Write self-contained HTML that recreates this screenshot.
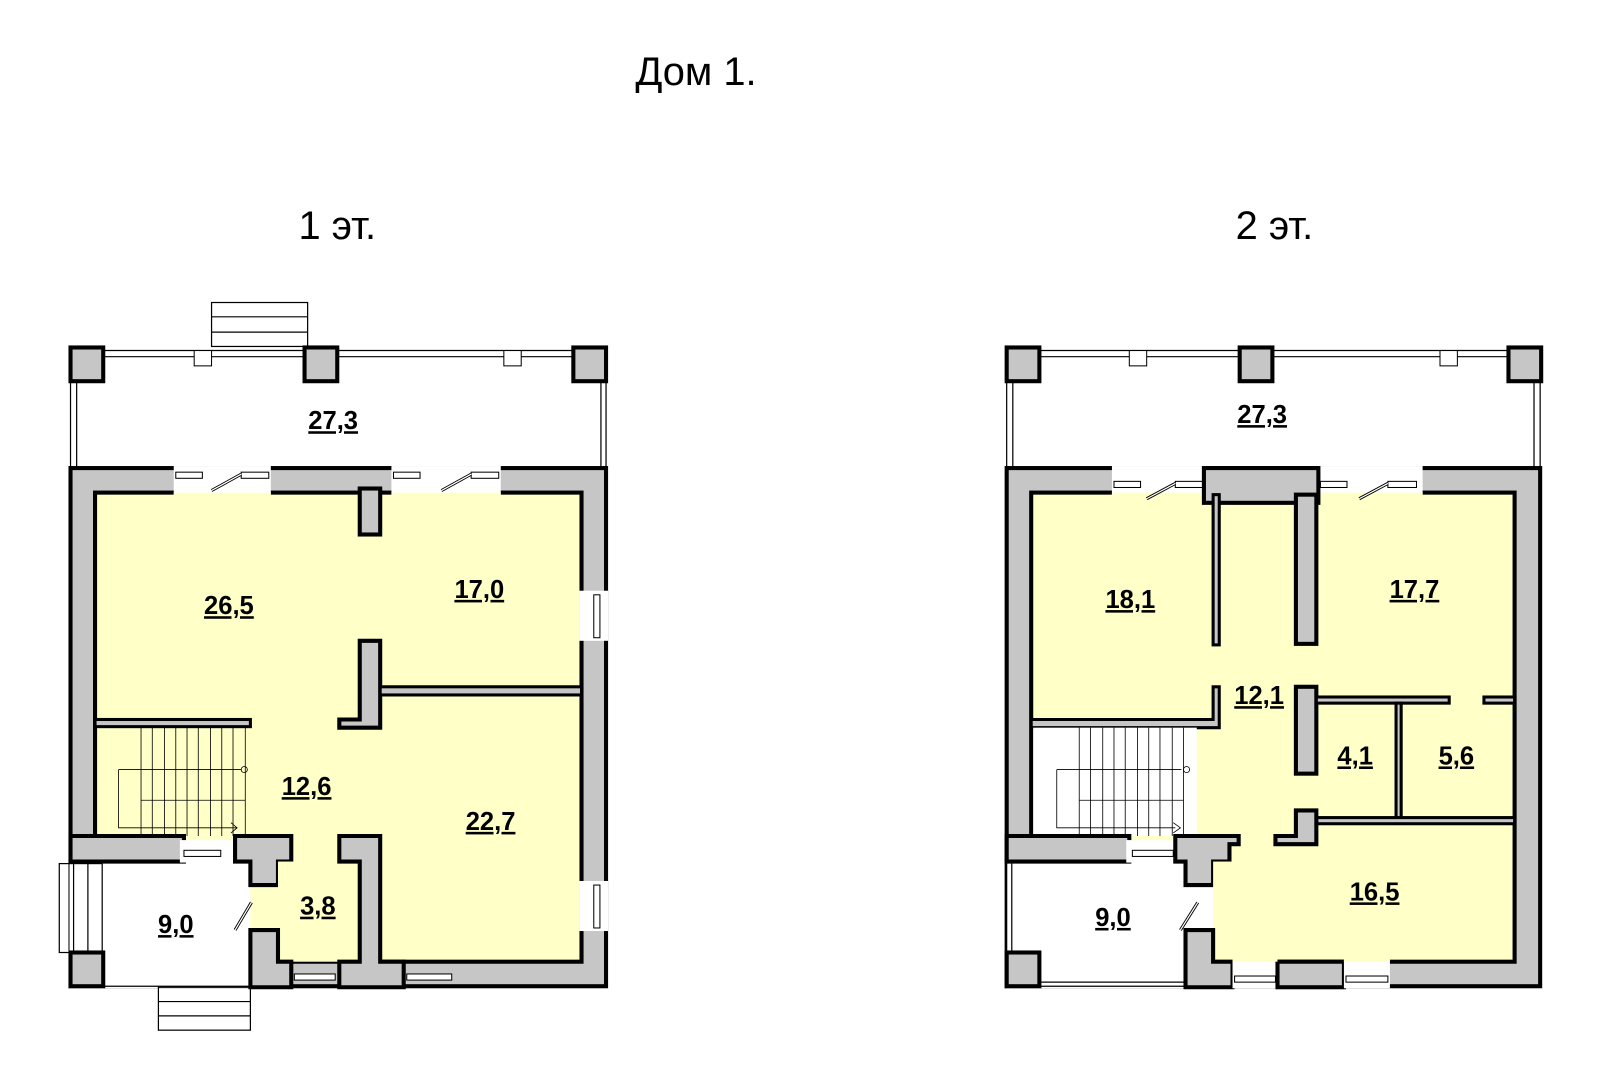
<!DOCTYPE html>
<html><head><meta charset="utf-8"><style>
html,body{margin:0;padding:0;background:#fff}
svg{display:block}
.w{fill:#c6c6c6;stroke:#000;stroke-width:4}
.y{fill:#ffffc8}
.t{font-family:"Liberation Sans",sans-serif;font-size:25px;font-weight:bold;text-anchor:middle;text-decoration:underline}
.h{font-family:"Liberation Sans",sans-serif;font-size:39px;text-anchor:middle}
.l{fill:none;stroke:#000;stroke-width:1.2}
.win{fill:#fff;stroke:#000;stroke-width:1}
</style></head><body>
<svg width="1600" height="1087" viewBox="0 0 1600 1087" xmlns="http://www.w3.org/2000/svg">
<g transform="scale(1.022)">
<text class="h" x="681" y="83">Дом 1.</text>
<text class="h" x="330" y="234">1 эт.</text>
<text class="h" x="1247" y="234">2 эт.</text>

<!-- LEFT PLAN -->
<g>
<rect class="l" x="207" y="296" width="94" height="43"/>
<line class="l" x1="207" y1="310" x2="301" y2="310"/><line class="l" x1="207" y1="325" x2="301" y2="325"/>
<line class="l" x1="100" y1="343" x2="561" y2="343"/><line class="l" x1="100" y1="349" x2="561" y2="349"/>
<rect class="win" x="190" y="343" width="17" height="15"/><rect class="win" x="493" y="343" width="17" height="15"/>
<line class="l" x1="69" y1="373" x2="69" y2="457"/><line class="l" x1="75" y1="373" x2="75" y2="457"/>
<line class="l" x1="588" y1="373" x2="588" y2="457"/><line class="l" x1="593" y1="373" x2="593" y2="457"/>
<rect class="w" x="69" y="340" width="32" height="33"/><rect class="w" x="298" y="340" width="32" height="33"/><rect class="w" x="561" y="340" width="32" height="33"/>
<rect class="w" x="69" y="458" width="524" height="507"/>
<rect class="y" x="93" y="482" width="476" height="459" stroke="#000" stroke-width="4"/>
<rect x="170" y="456" width="95" height="28" fill="#fff"/>
<rect x="383" y="456" width="107" height="28" fill="#fff"/>
<rect x="170" y="482" width="95" height="10" fill="#ffffc8"/><rect x="383" y="482" width="107" height="10" fill="#ffffc8"/>
<rect class="win" x="172" y="462" width="26" height="6"/><rect class="win" x="236" y="462" width="27" height="6"/>
<line x1="207" y1="480" x2="236" y2="464" stroke="#000" stroke-width="3"/><line x1="207" y1="480" x2="236" y2="464" stroke="#fff" stroke-width="1.2"/>
<rect class="win" x="385" y="462" width="26" height="6"/><rect class="win" x="461" y="462" width="27" height="6"/>
<line x1="432" y1="480" x2="461" y2="464" stroke="#000" stroke-width="3"/><line x1="432" y1="480" x2="461" y2="464" stroke="#fff" stroke-width="1.2"/>
<rect class="w" x="352" y="478" width="20" height="45"/>
<rect x="567" y="578" width="28" height="49" fill="#fff"/><rect class="win" x="581" y="582" width="6" height="42"/>
<rect x="567" y="862" width="28" height="49" fill="#fff"/><rect class="win" x="581" y="866" width="6" height="42"/>
<path class="w" d="M352 627 H372 V712 H332 V704 H352 Z"/>
<rect x="372" y="672" width="197" height="8" fill="#c6c6c6" stroke="#000" stroke-width="3"/>
<rect x="93" y="704" width="152" height="7" fill="#c6c6c6" stroke="#000" stroke-width="3"/>
<g stroke="#000" stroke-width="0.8" fill="none">
<path d="M138 712 V818 M149 712 V818 M161 712 V818 M172 712 V818 M183 712 V818 M194 712 V818 M206 712 V818 M217 712 V818 M228 712 V818 M240 712 V818"/>
<path d="M116 753 H236 M116 753 V810 H232 M138 783 H240"/>
<circle cx="239" cy="753" r="3"/><path d="M226 805 L232 810 L226 815"/>
</g>
<rect x="68" y="843" width="177" height="124" fill="#fff"/>
<path class="w" d="M69 818 H180 V843 H69 Z"/>
<rect x="176" y="822" width="60" height="22" fill="#fff"/>
<rect class="win" x="180" y="832" width="36" height="6"/>
<path class="w" d="M230 818 H285 V843 H272 V866 H245 V843 H230 Z"/>
<line x1="230" y1="910" x2="246" y2="883" stroke="#000" stroke-width="3"/><line x1="230" y1="910" x2="246" y2="883" stroke="#fff" stroke-width="1.2"/>
<rect x="272" y="866" width="80" height="75" fill="#ffffc8"/>
<rect x="272" y="843" width="60" height="25" fill="#ffffc8"/>
<path class="w" d="M245 910 H272 V941 H285 V966 H245 Z"/>
<rect class="win" x="288" y="953" width="40" height="6"/>
<path class="w" d="M332 818 H372 V941 H395 V966 H332 V941 H352 V843 H332 Z"/>
<rect class="win" x="398" y="953" width="44" height="6"/>
<rect class="w" x="69" y="932" width="32" height="33"/>
<rect class="l" x="58" y="845" width="42" height="87"/>
<line class="l" x1="72" y1="845" x2="72" y2="932"/><line class="l" x1="86" y1="845" x2="86" y2="932"/>
<line class="l" x1="101" y1="965" x2="245" y2="965"/>
<rect class="l" x="155" y="966" width="90" height="42"/>
<line class="l" x1="155" y1="980" x2="245" y2="980"/><line class="l" x1="155" y1="994" x2="245" y2="994"/>
<text class="t" x="326" y="420">27,3</text>
<text class="t" x="224" y="601">26,5</text>
<text class="t" x="469" y="585">17,0</text>
<text class="t" x="300" y="778">12,6</text>
<text class="t" x="480" y="812">22,7</text>
<text class="t" x="311" y="895">3,8</text>
<text class="t" x="172" y="913">9,0</text>
</g>

<!-- RIGHT PLAN -->
<g>
<line class="l" x1="1016" y1="343" x2="1476" y2="343"/><line class="l" x1="1016" y1="349" x2="1476" y2="349"/>
<rect class="win" x="1105" y="343" width="17" height="15"/><rect class="win" x="1409" y="343" width="17" height="15"/>
<line class="l" x1="985" y1="373" x2="985" y2="457"/><line class="l" x1="991" y1="373" x2="991" y2="457"/>
<line class="l" x1="1501" y1="373" x2="1501" y2="457"/><line class="l" x1="1507" y1="373" x2="1507" y2="457"/>
<rect class="w" x="985" y="340" width="32" height="33"/><rect class="w" x="1213" y="340" width="32" height="33"/><rect class="w" x="1476" y="340" width="32" height="33"/>
<rect class="w" x="985" y="458" width="522" height="507"/>
<rect class="y" x="1009" y="482" width="473" height="459" stroke="#000" stroke-width="4"/>
<rect x="1088" y="456" width="92" height="28" fill="#fff"/>
<rect x="1290" y="456" width="102" height="28" fill="#fff"/>
<rect x="1088" y="482" width="92" height="10" fill="#ffffc8"/><rect x="1290" y="482" width="102" height="10" fill="#ffffc8"/>
<rect class="win" x="1090" y="471" width="26" height="6"/><rect class="win" x="1150" y="471" width="28" height="6"/>
<line x1="1122" y1="488" x2="1150" y2="473" stroke="#000" stroke-width="3"/><line x1="1122" y1="488" x2="1150" y2="473" stroke="#fff" stroke-width="1.2"/>
<rect class="win" x="1292" y="471" width="26" height="6"/><rect class="win" x="1358" y="471" width="28" height="6"/>
<line x1="1330" y1="488" x2="1358" y2="473" stroke="#000" stroke-width="3"/><line x1="1330" y1="488" x2="1358" y2="473" stroke="#fff" stroke-width="1.2"/>
<rect class="w" x="1178" y="458" width="112" height="34"/>
<rect x="1187" y="484" width="6" height="147" fill="#c6c6c6" stroke="#000" stroke-width="3"/>
<rect class="w" x="1268" y="484" width="20" height="146"/>
<path d="M1009 704 H1187 V672 H1193 V712 H1009 Z" fill="#c6c6c6" stroke="#000" stroke-width="3"/>
<rect class="w" x="1268" y="672" width="20" height="85"/>
<rect x="1288" y="682" width="130" height="6" fill="#c6c6c6" stroke="#000" stroke-width="3"/>
<rect x="1452" y="682" width="30" height="6" fill="#c6c6c6" stroke="#000" stroke-width="3"/>
<rect x="1366" y="688" width="5" height="113" fill="#c6c6c6" stroke="#000" stroke-width="3"/>
<rect x="1288" y="800" width="194" height="6" fill="#c6c6c6" stroke="#000" stroke-width="3"/>
<path class="w" d="M1268 793 H1288 V826 H1248 V818 H1268 Z"/>
<rect x="1011" y="712" width="160" height="106" fill="#fff"/>
<g stroke="#000" stroke-width="0.8" fill="none">
<path d="M1056 712 V818 M1067 712 V818 M1079 712 V818 M1090 712 V818 M1101 712 V818 M1113 712 V818 M1124 712 V818 M1135 712 V818 M1147 712 V818 M1158 712 V818"/>
<path d="M1034 753 H1156 M1034 753 V810 H1150 M1056 783 H1158"/>
<circle cx="1161" cy="753" r="3"/><path d="M1148 805 L1155 810 L1148 815"/>
</g>
<rect x="985" y="843" width="202" height="124" fill="#fff"/>
<path class="w" d="M985 818 H1105 V843 H985 Z"/>
<rect x="1102" y="822" width="52" height="22" fill="#fff"/>
<rect class="win" x="1108" y="832" width="40" height="6"/>
<path class="w" d="M1150 818 H1212 V826 H1203 V843 H1187 V866 H1160 V843 H1150 Z"/>
<line x1="1155" y1="910" x2="1172" y2="883" stroke="#000" stroke-width="3"/><line x1="1155" y1="910" x2="1172" y2="883" stroke="#fff" stroke-width="1.2"/>
<rect x="1187" y="843" width="25" height="98" fill="#ffffc8"/>
<path class="w" d="M1160 910 H1187 V941 H1206 V966 H1160 Z"/>
<rect x="1206" y="939" width="44" height="28" fill="#fff"/><rect class="win" x="1208" y="955" width="40" height="6"/>
<rect x="1250" y="941" width="65" height="25" class="w"/>
<rect x="1315" y="939" width="45" height="28" fill="#fff"/><rect class="win" x="1317" y="955" width="41" height="6"/>
<rect x="1206" y="937" width="44" height="4" fill="#ffffc8"/><rect x="1315" y="937" width="45" height="4" fill="#ffffc8"/>
<rect class="w" x="985" y="932" width="32" height="33"/>
<line class="l" x1="985" y1="843" x2="985" y2="932"/><line class="l" x1="990" y1="843" x2="990" y2="932"/>
<line class="l" x1="1017" y1="961" x2="1160" y2="961"/><line class="l" x1="1017" y1="965" x2="1160" y2="965"/>
<text class="t" x="1235" y="414">27,3</text>
<text class="t" x="1106" y="595">18,1</text>
<text class="t" x="1384" y="585">17,7</text>
<text class="t" x="1232" y="689">12,1</text>
<text class="t" x="1326" y="748">4,1</text>
<text class="t" x="1425" y="748">5,6</text>
<text class="t" x="1345" y="881">16,5</text>
<text class="t" x="1089" y="906">9,0</text>
</g>
</g>
</svg>
</body></html>
